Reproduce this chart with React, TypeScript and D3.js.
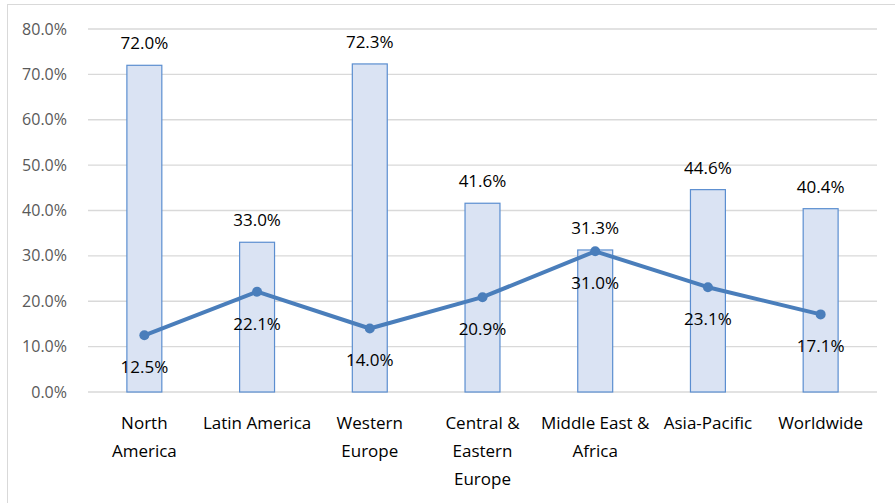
import React from "react";
import * as d3 from "d3";

const categories: string[][] = [
  ["North", "America"],
  ["Latin America"],
  ["Western", "Europe"],
  ["Central &", "Eastern", "Europe"],
  ["Middle East &", "Africa"],
  ["Asia-Pacific"],
  ["Worldwide"],
];
const barValues = [72.0, 33.0, 72.3, 41.6, 31.3, 44.6, 40.4];
const lineValues = [12.5, 22.1, 14.0, 20.9, 31.0, 23.1, 17.1];
const yTicks = [0, 10, 20, 30, 40, 50, 60, 70, 80];

const W = 895;
const H = 503;
const left = 88;
const right = 877;
const top = 29;
const bottom = 392;
const font = "'Open Sans', 'Noto Sans', sans-serif";

export default function App() {
  const idx = categories.map((_, i) => String(i));
  const x = d3.scaleBand().domain(idx).range([left, right]).paddingInner(0.69).paddingOuter(0.345);
  const xc = (i: number) => (x(String(i)) as number) + x.bandwidth() / 2;
  const y = d3.scaleLinear().domain([0, 80]).range([bottom, top]);
  const line = d3
    .line<number>()
    .x((_, i) => xc(i))
    .y((d) => y(d));

  return (
    <svg width={W} height={H} style={{ position: "absolute", left: 0, top: 0, background: "#fff" }}>
      <rect x={7.5} y={4.5} width={W + 10} height={H + 10} fill="none" stroke="#d9d9d9" strokeWidth={1} />
      {yTicks.map((t) => (
        <g key={t}>
          <line x1={left} x2={right} y1={y(t)} y2={y(t)} stroke="#d9d9d9" strokeWidth={1.3} />
          <text x={67} y={y(t)} dy="0.35em" textAnchor="end" fontFamily={font} fontSize={16} fill="#595959">
            {t.toFixed(1)}%
          </text>
        </g>
      ))}
      {barValues.map((v, i) => (
        <g key={i}>
          <rect
            x={x(String(i))}
            y={y(v)}
            width={x.bandwidth()}
            height={bottom - y(v)}
            fill="#dae3f3"
            stroke="#5b8ed0"
            strokeWidth={1.2}
          />
          <text x={xc(i)} y={y(v) - 22} dy="0.35em" textAnchor="middle" fontFamily={font} fontSize={17} fill="#000">
            {v.toFixed(1)}%
          </text>
        </g>
      ))}
      <path d={line(lineValues) || ""} fill="none" stroke="#4a7ebb" strokeWidth={4} strokeLinejoin="round" />
      {lineValues.map((v, i) => (
        <g key={i}>
          <circle cx={xc(i)} cy={y(v)} r={5} fill="#4a7ebb" />
          <text x={xc(i)} y={y(v) + 32} dy="0.35em" textAnchor="middle" fontFamily={font} fontSize={17} fill="#000">
            {v.toFixed(1)}%
          </text>
        </g>
      ))}
      {categories.map((lines, i) => (
        <text key={i} textAnchor="middle" fontFamily={font} fontSize={17} fill="#000">
          {lines.map((l, j) => (
            <tspan key={j} x={xc(i)} y={423 + j * 28} dy="0.35em">
              {l}
            </tspan>
          ))}
        </text>
      ))}
    </svg>
  );
}
